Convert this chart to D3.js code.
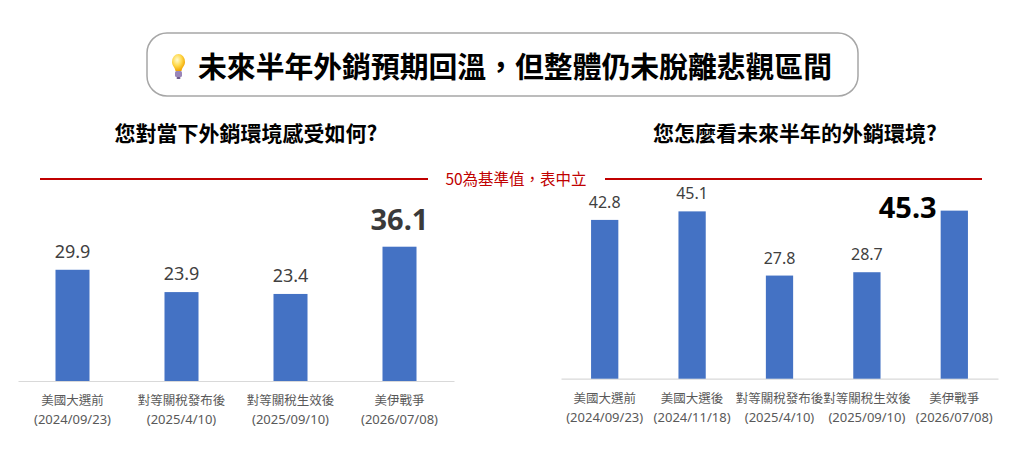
<!DOCTYPE html>
<html lang="zh-Hant">
<head>
<meta charset="utf-8">
<script src="https://d3js.org/d3.v7.min.js"></script>
<style>
  body { margin: 0; background: #fff; }
  svg text { font-family: "Noto Sans", "Noto Sans CJK TC", sans-serif; }
  .cjk { font-family: "Noto Sans CJK TC", "Noto Sans", sans-serif; }
</style>
</head>
<body>
<script>
// chart data
const mainTitle = "未來半年外銷預期回溫，但整體仍未脫離悲觀區間";
const leftTitle = "您對當下外銷環境感受如何?";
const rightTitle = "您怎麼看未來半年的外銷環境?";
const refLabel = "50為基準值，表中立";
const refValue = 50;

const leftNames = ["美國大選前", "對等關稅發布後", "對等關稅生效後", "美伊戰爭"];
const leftDates = ["(2024/09/23)", "(2025/4/10)", "(2025/09/10)", "(2026/07/08)"];
const leftValues = [29.9, 23.9, 23.4, 36.1];

const rightNames = ["美國大選前", "美國大選後", "對等關稅發布後", "對等關稅生效後", "美伊戰爭"];
const rightDates = ["(2024/09/23)", "(2024/11/18)", "(2025/4/10)", "(2025/09/10)", "(2026/07/08)"];
const rightValues = [42.8, 45.1, 27.8, 28.7, 45.3];

const W = 1024, H = 458;
const barColor = "#4472c4";

const svg = d3.select("body").append("svg")
    .attr("width", W)
    .attr("height", H);

// title box
svg.append("rect")
    .attr("x", 147).attr("y", 33)
    .attr("width", 711).attr("height", 63)
    .attr("rx", 20)
    .attr("fill", "#fff")
    .attr("stroke", "#a6a6a6")
    .attr("stroke-width", 1.5);

// light bulb
const defs = svg.append("defs");
const grad = defs.append("radialGradient").attr("id", "bulb").attr("cx", "40%").attr("cy", "35%").attr("r", "65%");
grad.append("stop").attr("offset", "0%").attr("stop-color", "#fffbd0");
grad.append("stop").attr("offset", "55%").attr("stop-color", "#ffd84a");
grad.append("stop").attr("offset", "100%").attr("stop-color", "#f0a400");
svg.append("path")
    .attr("d", "M172,62 a6.5,8 0 1,1 13,0 c0,4 -3,5 -3.5,9 h-6 c-0.5,-4 -3.5,-5 -3.5,-9 z")
    .attr("fill", "url(#bulb)");
svg.append("rect").attr("x", 175).attr("y", 71).attr("width", 7).attr("height", 6).attr("rx", 1.5).attr("fill", "#9a86b8");
svg.append("rect").attr("x", 176.5).attr("y", 77).attr("width", 4).attr("height", 2).attr("rx", 1).attr("fill", "#6f5b8c");

svg.append("text")
    .attr("class", "cjk")
    .attr("x", 198).attr("y", 78)
    .attr("font-size", 29)
    .attr("font-weight", 700)
    .attr("fill", "#000")
    .attr("textLength", 634)
    .attr("lengthAdjust", "spacingAndGlyphs")
    .text(mainTitle);

// sub titles
svg.append("text").attr("class", "cjk")
    .attr("x", 246).attr("y", 141)
    .attr("text-anchor", "middle")
    .attr("font-size", 21).attr("font-weight", 700).attr("fill", "#000")
    .text(leftTitle);
svg.append("text").attr("class", "cjk")
    .attr("x", 795).attr("y", 141)
    .attr("text-anchor", "middle")
    .attr("font-size", 21).attr("font-weight", 700).attr("fill", "#000")
    .text(rightTitle);

function drawPanel(opt) {
    const x = d3.scaleBand()
        .domain(d3.range(opt.values.length))
        .range(opt.xRange)
        .paddingInner(0.688)
        .paddingOuter(0.344);
    const y = d3.scaleLinear()
        .domain([0, refValue])
        .range([opt.base, opt.base - refValue * opt.pxPerUnit]);

    const g = svg.append("g");

    // axis line only
    const ax = g.append("g")
        .attr("transform", "translate(0," + opt.base + ")")
        .call(d3.axisBottom(x).tickSize(0).tickFormat(""));
    ax.select(".domain").attr("stroke", "#d9d9d9").attr("stroke-width", 1.2);

    g.selectAll("rect.bar")
        .data(opt.values)
        .enter()
        .append("rect")
        .attr("class", "bar")
        .attr("x", (d, i) => x(i))
        .attr("y", d => y(d))
        .attr("width", x.bandwidth())
        .attr("height", d => opt.base - y(d))
        .attr("fill", barColor);

    const last = opt.values.length - 1;
    g.selectAll("text.val")
        .data(opt.values)
        .enter()
        .append("text")
        .attr("class", "val")
        .attr("x", (d, i) => {
            if (i === last && opt.bigSide) return x(i) - 4;
            return x(i) + x.bandwidth() / 2;
        })
        .attr("y", (d, i) => {
            if (i === last) return opt.bigSide ? y(d) + 7 : y(d) - 17;
            return y(d) - 12;
        })
        .attr("text-anchor", (d, i) => (i === last && opt.bigSide) ? "end" : "middle")
        .attr("font-size", (d, i) => i === last ? 29 : opt.valSize)
        .attr("font-weight", (d, i) => i === last ? 700 : 400)
        .attr("fill", (d, i) => i === last ? opt.bigColor : "#404040")
        .text(d => d3.format(".1f")(d));

    const lab = g.selectAll("text.cat")
        .data(opt.names)
        .enter()
        .append("text")
        .attr("class", "cat")
        .attr("text-anchor", "middle")
        .attr("fill", "#595959");
    lab.append("tspan")
        .attr("class", "cjk")
        .attr("x", (d, i) => x(i) + x.bandwidth() / 2)
        .attr("y", opt.base + 24)
        .attr("font-size", 12.5)
        .text(d => d);
    lab.append("tspan")
        .attr("x", (d, i) => x(i) + x.bandwidth() / 2)
        .attr("y", opt.base + 43)
        .attr("font-size", 13)
        .text((d, i) => opt.dates[i]);
}

drawPanel({
    values: leftValues, names: leftNames, dates: leftDates,
    xRange: [18, 454], base: 381, pxPerUnit: 3.72,
    valSize: 18, bigSide: false, bigColor: "#3a3a3a"
});
drawPanel({
    values: rightValues, names: rightNames, dates: rightDates,
    xRange: [561, 998], base: 378.7, pxPerUnit: 3.71,
    valSize: 16, bigSide: true, bigColor: "#000"
});

// reference line, 50 = neutral
const refY = 179;
svg.append("line")
    .attr("x1", 40).attr("x2", 428).attr("y1", refY).attr("y2", refY)
    .attr("stroke", "#c00000").attr("stroke-width", 2);
svg.append("line")
    .attr("x1", 605).attr("x2", 982).attr("y1", refY).attr("y2", refY)
    .attr("stroke", "#c00000").attr("stroke-width", 2);
svg.append("text")
    .attr("class", "cjk")
    .attr("x", 516).attr("y", refY + 6)
    .attr("text-anchor", "middle")
    .attr("font-size", 15.5)
    .attr("fill", "#c00000")
    .text(refLabel);
</script>
</body>
</html>
